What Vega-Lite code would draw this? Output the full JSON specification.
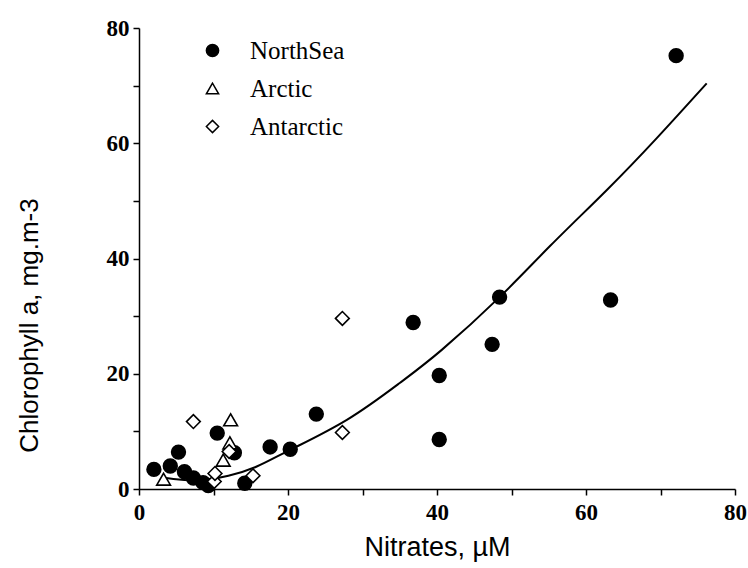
{
  "$schema": "https://vega.github.io/schema/vega-lite/v6.json",
  "width": 596,
  "height": 461,
  "autosize": "none",
  "padding": {"left": 139, "top": 28, "right": 13, "bottom": 79},
  "background": "white",
  "config": {
    "view": {"stroke": null},
    "axis": {"grid": false, "domainColor": "black", "tickColor": "black", "domainWidth": 1.5, "tickWidth": 1.5, "labelColor": "black", "titleColor": "black"}
  },
  "datasets": {
    "pts": [
      {"site": "NorthSea", "nitrate": 2.0, "chl": 3.4},
      {"site": "NorthSea", "nitrate": 4.2, "chl": 4.0},
      {"site": "NorthSea", "nitrate": 5.3, "chl": 6.4},
      {"site": "NorthSea", "nitrate": 6.1, "chl": 3.0},
      {"site": "NorthSea", "nitrate": 7.3, "chl": 1.9},
      {"site": "NorthSea", "nitrate": 8.6, "chl": 1.1},
      {"site": "NorthSea", "nitrate": 9.3, "chl": 0.6},
      {"site": "NorthSea", "nitrate": 10.5, "chl": 9.7},
      {"site": "NorthSea", "nitrate": 12.8, "chl": 6.3},
      {"site": "NorthSea", "nitrate": 14.2, "chl": 1.0},
      {"site": "NorthSea", "nitrate": 17.6, "chl": 7.3},
      {"site": "NorthSea", "nitrate": 20.3, "chl": 6.9},
      {"site": "NorthSea", "nitrate": 23.8, "chl": 13.0},
      {"site": "NorthSea", "nitrate": 36.8, "chl": 28.9},
      {"site": "NorthSea", "nitrate": 40.3, "chl": 19.7},
      {"site": "NorthSea", "nitrate": 40.3, "chl": 8.6},
      {"site": "NorthSea", "nitrate": 47.4, "chl": 25.1},
      {"site": "NorthSea", "nitrate": 48.4, "chl": 33.3},
      {"site": "NorthSea", "nitrate": 63.3, "chl": 32.8},
      {"site": "NorthSea", "nitrate": 72.1, "chl": 75.2},
      {"site": "Arctic", "nitrate": 3.3, "chl": 1.7},
      {"site": "Arctic", "nitrate": 11.3, "chl": 5.0},
      {"site": "Arctic", "nitrate": 12.2, "chl": 8.0},
      {"site": "Arctic", "nitrate": 12.3, "chl": 12.0},
      {"site": "Antarctic", "nitrate": 7.3, "chl": 11.7},
      {"site": "Antarctic", "nitrate": 10.1, "chl": 1.3},
      {"site": "Antarctic", "nitrate": 10.2, "chl": 2.7},
      {"site": "Antarctic", "nitrate": 12.1, "chl": 6.5},
      {"site": "Antarctic", "nitrate": 15.3, "chl": 2.3},
      {"site": "Antarctic", "nitrate": 27.3, "chl": 29.6},
      {"site": "Antarctic", "nitrate": 27.3, "chl": 9.8}
    ],
    "fit": [
      {"nitrate": 3.0, "chl": 2.0},
      {"nitrate": 5.0, "chl": 1.7},
      {"nitrate": 7.0, "chl": 1.5},
      {"nitrate": 9.0, "chl": 1.6},
      {"nitrate": 12.0, "chl": 2.3},
      {"nitrate": 15.8, "chl": 3.9},
      {"nitrate": 20.3, "chl": 6.8},
      {"nitrate": 27.9, "chl": 12.0},
      {"nitrate": 35.0, "chl": 18.4},
      {"nitrate": 40.6, "chl": 24.1},
      {"nitrate": 48.4, "chl": 33.3},
      {"nitrate": 55.2, "chl": 42.2},
      {"nitrate": 62.8, "chl": 51.9},
      {"nitrate": 69.5, "chl": 60.9},
      {"nitrate": 76.2, "chl": 70.4}
    ]
  },
  "layer": [
    {
      "data": {"name": "fit"},
      "mark": {"type": "line", "color": "black", "strokeWidth": 2, "interpolate": "natural"},
      "encoding": {
        "x": {"field": "nitrate", "type": "quantitative"},
        "y": {"field": "chl", "type": "quantitative"}
      }
    },
    {
      "data": {"name": "pts"},
      "mark": {"type": "point", "filled": false, "strokeWidth": 1.6, "opacity": 1, "size": 190},
      "encoding": {
        "x": {
          "field": "nitrate", "type": "quantitative",
          "scale": {"domain": [0, 80], "nice": false, "zero": false},
          "axis": {
            "title": "Nitrates, µM",
            "values": [0, 10, 20, 30, 40, 50, 60, 70, 80],
            "labelExpr": "datum.value % 20 === 0 ? datum.label : ''",
            "tickSize": 6,
            "labelPadding": 6,
            "labelFont": "Liberation Serif",
            "labelFontSize": 23,
            "labelFontWeight": "bold",
            "labelFlush": false,
            "titleFont": "Liberation Sans",
            "titleFontSize": 27,
            "titleFontWeight": "normal",
            "titlePadding": 10
          }
        },
        "y": {
          "field": "chl", "type": "quantitative",
          "scale": {"domain": [0, 80], "nice": false, "zero": false},
          "axis": {
            "title": "Chlorophyll a, mg.m-3",
            "values": [0, 10, 20, 30, 40, 50, 60, 70, 80],
            "labelExpr": "datum.value % 20 === 0 ? datum.label : ''",
            "tickSize": 6,
            "labelPadding": 4,
            "labelFont": "Liberation Serif",
            "labelFontSize": 23,
            "labelFontWeight": "bold",
            "labelFlush": false,
            "titleFont": "Liberation Sans",
            "titleFontSize": 26,
            "titleFontWeight": "normal",
            "titlePadding": 64,
            "titleY": 297
          }
        },
        "shape": {
          "field": "site", "type": "nominal",
          "scale": {"domain": ["NorthSea", "Arctic", "Antarctic"], "range": ["circle", "triangle-up", "diamond"]},
          "legend": {
            "title": null,
            "orient": "none",
            "legendX": 61,
            "legendY": 10,
            "labelFont": "Liberation Serif",
            "labelFontSize": 25,
            "labelColor": "black",
            "symbolSize": 150,
            "symbolStrokeWidth": 1.5,
            "labelOffset": 25,
            "rowPadding": 12
          }
        },
        "fill": {
          "field": "site", "type": "nominal",
          "scale": {"domain": ["NorthSea", "Arctic", "Antarctic"], "range": ["black", "white", "white"]}
        },
        "stroke": {
          "field": "site", "type": "nominal",
          "scale": {"domain": ["NorthSea", "Arctic", "Antarctic"], "range": ["black", "black", "black"]}
        }
      }
    }
  ]
}
